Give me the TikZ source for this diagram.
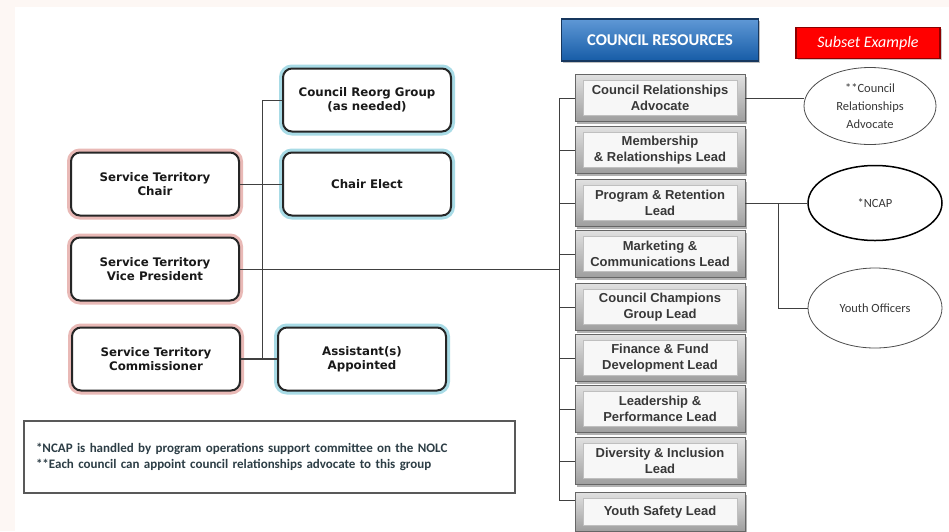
\documentclass[tikz,border=0pt]{standalone}
\usepackage{fontspec}
\setmainfont{DejaVu Sans}
\newfontfamily\arialfont{Liberation Sans}
\newfontfamily\calfont{Carlito}
\usepackage{xcolor}
\usepackage{tikz}
\usetikzlibrary{calc, shadows, shapes.geometric}

\definecolor{edgepink}{HTML}{FDF7F4}
\definecolor{glowred}{HTML}{E9B9B6}
\definecolor{glowblue}{HTML}{A8DBE6}
\definecolor{resblue}{HTML}{1A6CC4}
\definecolor{resnavy}{HTML}{17375E}
\definecolor{notetext}{HTML}{2D3E46}

\tikzset{
  terrbox/.style={draw=black!85, line width=2pt, rounded corners=9pt, fill=white,
    minimum width=168pt, minimum height=63pt, align=center,
    font=\bfseries\fontsize{11.8}{14.5}\selectfont, text=black!90},
  redglow/.style={terrbox, preaction={draw=glowred, line width=8pt}},
  blueglow/.style={terrbox, preaction={draw=glowblue, line width=8pt}},
  resbox/.style={draw=black!60, line width=0.8pt, top color=black!12, bottom color=black!38,
    minimum width=170pt, minimum height=47pt, align=center,
    font=\arialfont\bfseries\fontsize{13}{16}\selectfont, text=black!78,
    drop shadow={shadow xshift=2pt, shadow yshift=-2pt, fill=black!60},
    path picture={\filldraw[fill=black!3, draw=black!25, line width=0.5pt]
      ($(path picture bounding box.south west)+(8pt,6pt)$) rectangle
      ($(path picture bounding box.north east)+(-8pt,-6pt)$);}},
  oval/.style={ellipse, draw=black!70, line width=0.8pt, fill=white, inner sep=0pt,
    minimum width=132pt, minimum height=77pt, align=center,
    font=\calfont\fontsize{12.5}{18}\selectfont, text=black!78},
  conn/.style={draw=black!75, line width=1pt}
}

\begin{document}
\begin{tikzpicture}[x=1pt, y=-1pt]

  \fill[edgepink] (0,0) rectangle (949,531);
  \fill[white] (15,7) rectangle (949,531);
  \useasboundingbox (0,0) rectangle (949,531);

  \node[redglow] (chair) at (155,184) {Service Territory\\Chair};
  \node[redglow] (vp) at (155,269) {Service Territory\\Vice President};
  \node[redglow] (comm) at (156,359) {Service Territory\\Commissioner};

  \node[blueglow] (reorg) at (367,100) {Council Reorg Group\\(as needed)};
  \node[blueglow] (elect) at (367,184) {Chair Elect};
  \node[blueglow] (assist) at (362,359) {Assistant(s)\\Appointed};

  \coordinate (ltrunk) at (262,359);
  \draw[conn] (reorg.west) -| (ltrunk);
  \draw[conn] (chair.east) -- (elect.west);
  \draw[conn, line width=2pt] (comm.east) -- (assist.west);

  \node[draw=resnavy, line width=1.5pt, top color=resblue!70!white, bottom color=resblue!85!black,
    minimum width=197pt, minimum height=42pt, text=white,
    font=\calfont\bfseries\fontsize{16.5}{18}\selectfont,
    drop shadow={shadow xshift=1.5pt, shadow yshift=-1.5pt, fill=black!50}]
    (reshead) at (660,40) {COUNCIL RESOURCES};
  \node[draw=red!55!black, line width=1.2pt, fill=red, minimum width=144pt, minimum height=31pt,
    text=white, font=\calfont\itshape\fontsize{16}{18}\selectfont,
    drop shadow={shadow xshift=1.5pt, shadow yshift=-1.5pt, fill=black!40}]
    (subset) at (868,43) {Subset Example};

  \foreach \nm/\yy/\txt in {r1/98/{Council Relationships\\Advocate},
      r2/150/{Membership\\\& Relationships Lead},
      r3/203/{Program \& Retention\\Lead},
      r4/254/{Marketing \&\\Communications Lead},
      r5/307/{Council Champions\\Group Lead},
      r6/358/{Finance \& Fund\\Development Lead},
      r7/409/{Leadership \&\\Performance Lead},
      r8/461/{Diversity \& Inclusion\\Lead}}
    \node[resbox] (\nm) at (660,\yy) {\txt};
  \node[resbox, minimum height=39pt] (r9) at (660,512) {Youth Safety Lead};

  \draw[conn] (r1.west) -- ++(-15,0) coordinate (rbus) |- ([yshift=-8pt]r9.north west);
  \foreach \i in {2,...,8}
    \draw[conn] (r\i.west) -- ++(-15,0);
  \draw[conn] (vp.east) -- (vp.east -| rbus);

  \node[oval] (cra) at (870,106) {**Council\\Relationships\\Advocate};
  \node[oval, draw=black, line width=1.5pt, minimum width=134pt, minimum height=75pt] (ncap) at (875,203) {*NCAP};
  \node[oval, minimum width=134pt, minimum height=80pt] (youth) at (875,308) {Youth Officers};

  \draw[conn] (r1.east) -- (r1.east -| cra.west);
  \draw[conn] (r3.east) -- (ncap.west);
  \coordinate (fork) at ($(r3.east)+(33,0)$);
  \draw[conn] (fork) |- (youth.west);

  \node[draw=black!65, line width=1.2pt, fill=white, minimum width=491pt, minimum height=72pt,
    text width=467pt, align=left, text=notetext,
    font=\calfont\bfseries\fontsize{13}{16}\selectfont]
    (note) at (269.5,457) {*NCAP is handled by program operations support committee on the NOLC\\{}**Each council can appoint council relationships advocate to this group};

\end{tikzpicture}
\end{document}
